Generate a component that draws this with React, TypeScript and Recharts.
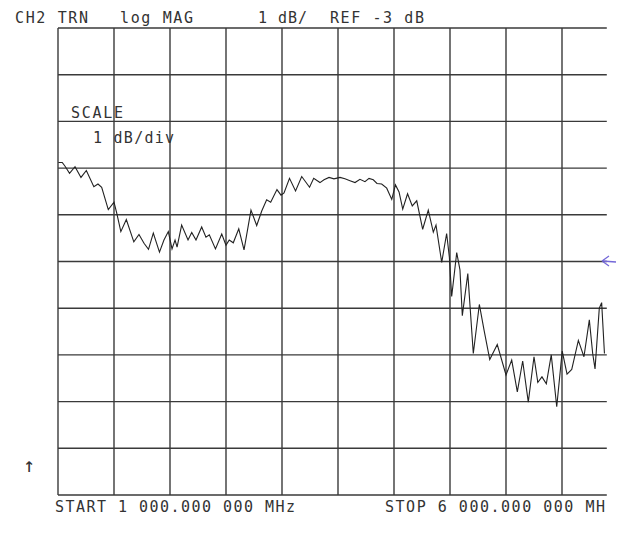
import { LineChart, Line, XAxis, YAxis, ReferenceLine } from "recharts";

// trace: frequency (MHz) and magnitude (dB)
const freqMHz = [
  1003, 1038, 1063, 1103, 1152, 1205, 1253, 1320, 1357, 1390, 1449, 1500, 1524, 1561, 1610, 1677,
  1723, 1768, 1808, 1851, 1906, 1946, 1985, 2018, 2045, 2063, 2104, 2161, 2194, 2232, 2283, 2321,
  2351, 2406, 2462, 2500, 2529, 2565, 2614, 2661, 2723, 2774, 2819, 2863, 2899, 2955, 2991, 3018,
  3067, 3121, 3176, 3246, 3283, 3339, 3375, 3420, 3464, 3518, 3562, 3607, 3652, 3696, 3741, 3777,
  3815, 3848, 3890, 3935, 3980, 4013, 4045, 4078, 4121, 4163, 4203, 4256, 4306, 4351, 4375, 4426,
  4470, 4494, 4515, 4560, 4589, 4610, 4659, 4708, 4762, 4804, 4855, 4922, 5000, 5051, 5101, 5149,
  5199, 5250, 5284, 5321, 5360, 5404, 5453, 5502, 5545, 5587, 5646, 5696, 5744, 5774, 5795, 5833,
  5854, 5879,
];

const magDb = [
  -0.88, -0.88, -0.96, -1.11, -0.97, -1.2, -1.05, -1.4, -1.34, -1.41, -1.89, -1.73, -1.96, -2.36, -2.1, -2.58,
  -2.42, -2.61, -2.74, -2.39, -2.8, -2.54, -2.36, -2.73, -2.54, -2.69, -2.22, -2.54, -2.38, -2.54, -2.26, -2.48,
  -2.43, -2.73, -2.41, -2.65, -2.54, -2.6, -2.3, -2.75, -1.9, -2.23, -1.92, -1.68, -1.73, -1.46, -1.58, -1.53,
  -1.22, -1.49, -1.18, -1.41, -1.22, -1.31, -1.25, -1.2, -1.23, -1.2, -1.23, -1.27, -1.31, -1.24, -1.29, -1.22,
  -1.25, -1.33, -1.34, -1.43, -1.67, -1.36, -1.51, -1.88, -1.55, -1.81, -1.7, -2.31, -1.9, -2.37, -2.22, -3.02,
  -2.4, -2.9, -3.75, -2.81, -3.18, -4.16, -3.26, -4.97, -3.92, -4.47, -5.1, -4.78, -5.43, -5.11, -5.79, -5.13,
  -6.01, -5.04, -5.59, -5.47, -5.62, -5.0, -6.11, -4.92, -5.41, -5.31, -4.69, -5.04, -4.25, -4.97, -5.3, -4.0,
  -3.88, -4.97,
];

// graticule: 10 x 10 divisions, 500 MHz and 1 dB each
const gridFreqs = [1000, 1500, 2000, 2500, 3000, 3500, 4000, 4500, 5000, 5500];
const gridDb = [-8, -7, -6, -5, -4, -3, -2, -1, 0, 1, 2];

const data = freqMHz.map((f, i) => ({ f, db: magDb[i] }));

const FONT = "'DejaVu Sans Mono', 'Liberation Mono', monospace";
const INK = "#333";

const Txt = ({ x, y, len, children }: any) => (
  <text
    x={x}
    y={y}
    textLength={len}
    lengthAdjust="spacing"
    fontFamily={FONT}
    fontSize={15}
    fill={INK}
  >
    {children}
  </text>
);

const App = () => {
  return (
    <div style={{ position: "absolute", left: 0, top: 0, width: 640, height: 536, background: "#fff" }}>
      <LineChart
        width={640}
        height={536}
        data={data}
        margin={{ top: 28, right: 22, bottom: 41, left: 58 }}
      >
        <XAxis type="number" dataKey="f" domain={[1000, 6000]} hide />
        <YAxis type="number" domain={[-8, 2]} hide />

        {gridDb.map((v) => (
          <ReferenceLine
            key={"h" + v}
            segment={[
              { x: 1000, y: v },
              { x: 5900, y: v },
            ]}
            stroke="#3a3a3a"
            strokeWidth={1.4}
          />
        ))}

        {gridFreqs.map((f) => (
          <ReferenceLine
            key={"v" + f}
            segment={[
              { x: f, y: -8 },
              { x: f, y: 2 },
            ]}
            stroke="#3a3a3a"
            strokeWidth={1.4}
          />
        ))}

        <Line
          type="linear"
          dataKey="db"
          stroke="#222"
          strokeWidth={1.1}
          dot={false}
          isAnimationActive={false}
        />
      </LineChart>

      <svg
        width={640}
        height={536}
        style={{ position: "absolute", left: 0, top: 0, pointerEvents: "none" }}
      >
        <Txt x={15} y={23} len={73}>CH2 TRN</Txt>
        <Txt x={120} y={23} len={73}>log MAG</Txt>
        <Txt x={258} y={23} len={49}>1 dB/</Txt>
        <Txt x={330} y={23} len={94}>REF -3 dB</Txt>

        <Txt x={71} y={118} len={52}>SCALE</Txt>
        <Txt x={93} y={143} len={81}>1 dB/div</Txt>

        <Txt x={55} y={512} len={240}>START 1 000.000 000 MHz</Txt>
        <Txt x={385} y={512} len={220}>STOP 6 000.000 000 MH</Txt>

        <text x={29} y={472} textAnchor="middle" fontFamily={FONT} fontSize={20} fill={INK}>
          {"\u2191\uFE0E"}
        </text>
        <path
          d="M616 262 L602 261 M602 261 L609 256 M602 261 L609 266"
          stroke="#7468d8"
          strokeWidth={1.3}
          fill="none"
        />
      </svg>
    </div>
  );
};

export default App;
